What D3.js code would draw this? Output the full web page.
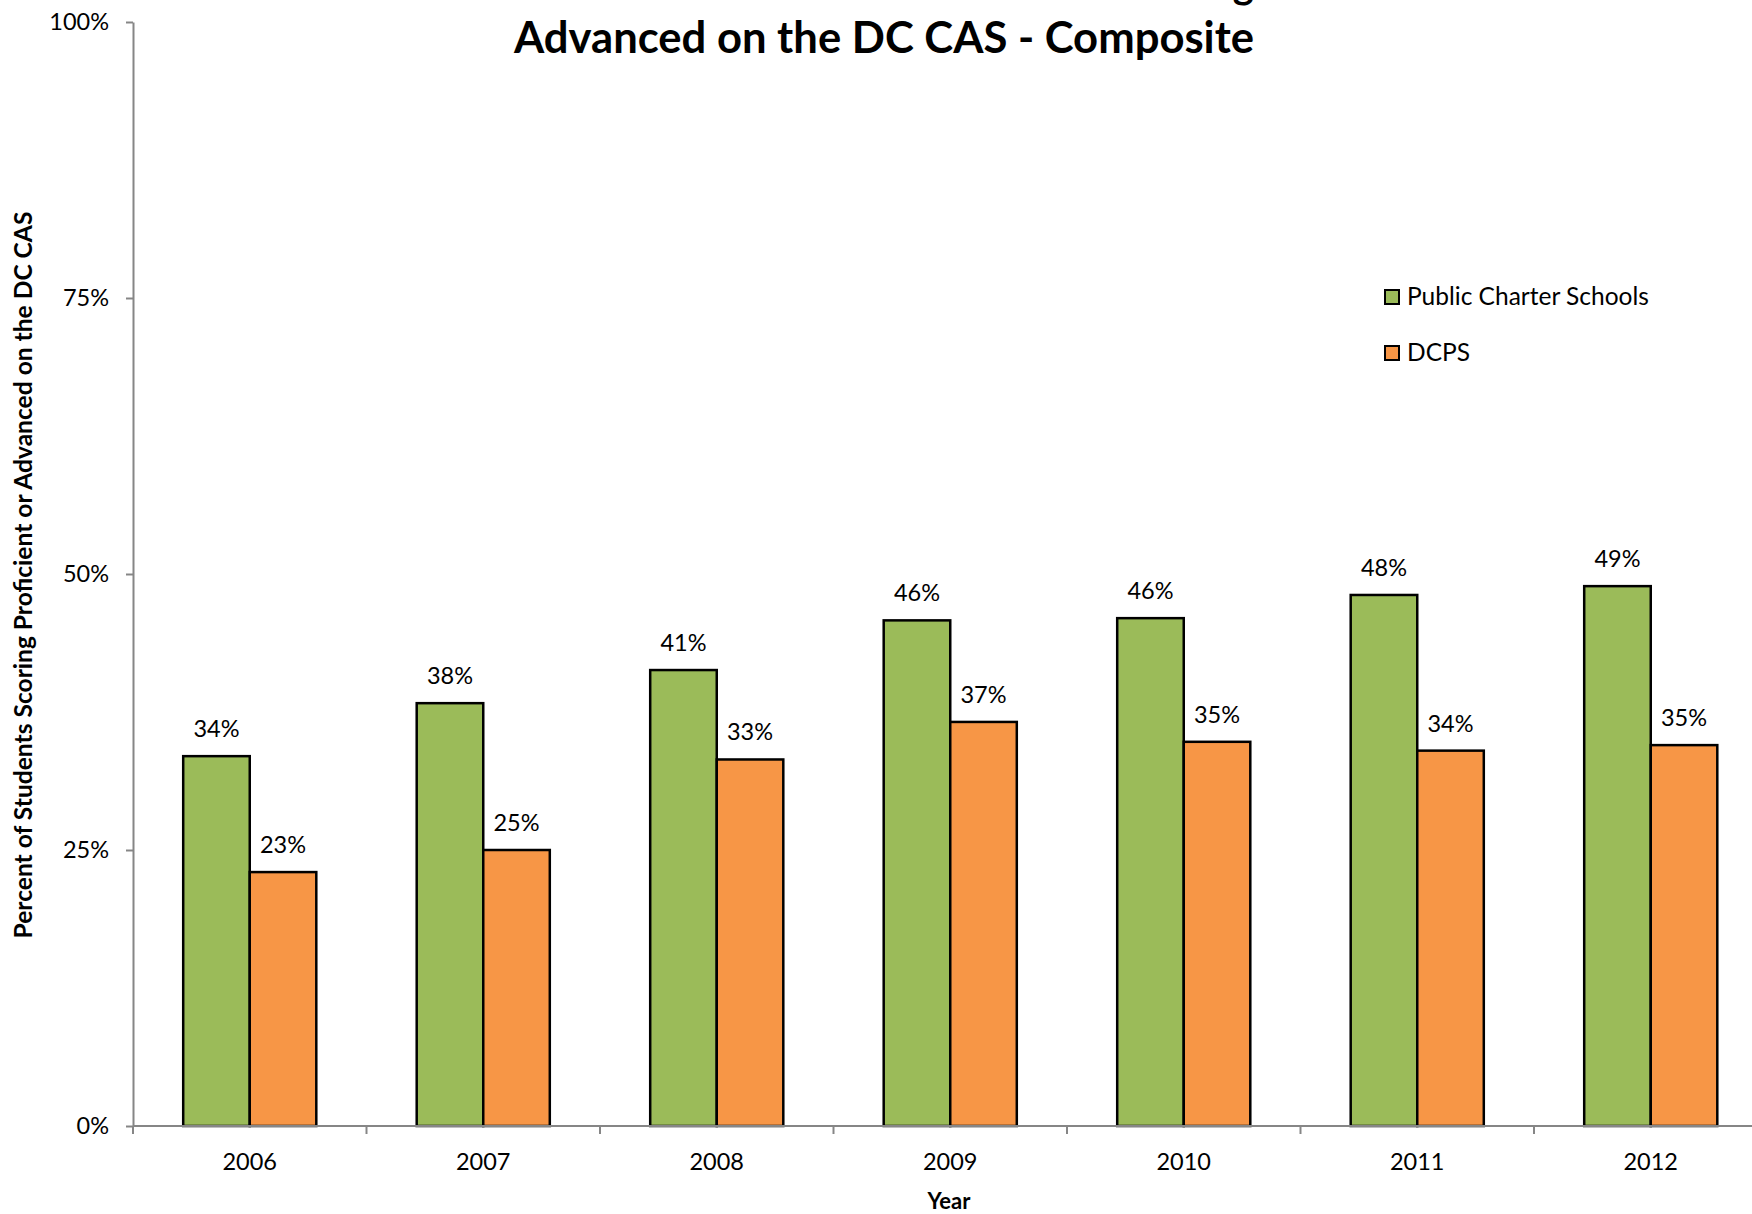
<!DOCTYPE html>
<html><head><meta charset="utf-8">
<script src="https://cdn.jsdelivr.net/npm/d3@7"></script>
<style>body{margin:0;background:#fff;overflow:hidden} svg{display:block}</style>
</head><body>
<script>
// ---- data ----
const years = ["2006", "2007", "2008", "2009", "2010", "2011", "2012"];
const seriesNames = ["Public Charter Schools", "DCPS"];
const charterValues = [33.5, 38.3, 41.3, 45.8, 46.0, 48.1, 48.9];
const dcpsValues = [23.0, 25.0, 33.2, 36.6, 34.8, 34.0, 34.5];
const yTicks = [0, 25, 50, 75, 100];
const titleLines = ["Percent of PCS and DCPS Students Scoring", "Advanced on the DC CAS - Composite"];
const yTitle = "Percent of Students Scoring Proficient or Advanced on the DC CAS";
const xTitle = "Year";

const colors = ["#9BBB59", "#F79646"];
const FONT = "Lato, 'Open Sans', sans-serif";

const W = 1752, H = 1214;
const svg = d3.select("body").append("svg").attr("width", W).attr("height", H)
  .style("font-family", FONT);

const plotLeft = 133, plotBase = 1126, plotTop = 22, step = 233.5;
const y = d3.scaleLinear().domain([0, 100]).range([plotBase, plotTop]);
const x0 = d3.scaleBand().domain(years).range([plotLeft, plotLeft + step * years.length])
  .paddingInner(0.43).paddingOuter(0.215);
const x1 = d3.scaleBand().domain(seriesNames).range([0, x0.bandwidth()]);

const data = years.map((yr, i) => ({year: yr, values: [charterValues[i], dcpsValues[i]]}));

function fit(sel, target) {
  const node = sel.node();
  const fs = parseFloat(sel.attr("font-size"));
  const w = node.getComputedTextLength();
  if (w > 0) sel.attr("font-size", (fs * target / w).toFixed(2));
}

// ---- title (first line runs off the top edge, as in the source) ----
svg.append("text").attr("x", 1254).attr("y", -2).attr("text-anchor", "end")
  .attr("font-weight", "bold").attr("font-size", 40).attr("fill", "#000").text(titleLines[0]);
const t2 = svg.append("text").attr("x", 884).attr("y", 53).attr("text-anchor", "middle")
  .attr("font-weight", "bold").attr("font-size", 40).attr("fill", "#000").text(titleLines[1]);
fit(t2, 740);

// ---- bars ----
const g = svg.append("g");
const groups = g.selectAll("g.grp").data(data).join("g").attr("class", "grp")
  .attr("transform", d => `translate(${x0(d.year)},0)`);
groups.selectAll("rect").data(d => d.values.map((v, i) => ({v, i}))).join("rect")
  .attr("x", d => x1(seriesNames[d.i]))
  .attr("y", d => y(d.v))
  .attr("width", x1.bandwidth())
  .attr("height", d => plotBase - y(d.v))
  .attr("fill", d => colors[d.i])
  .attr("stroke", "#000").attr("stroke-width", 2.5);
groups.selectAll("text").data(d => d.values.map((v, i) => ({v, i}))).join("text")
  .attr("x", d => x1(seriesNames[d.i]) + x1.bandwidth() / 2)
  .attr("y", d => y(d.v) - 19)
  .attr("text-anchor", "middle").attr("font-size", 23.5).attr("fill", "#000")
  .text(d => Math.round(d.v) + "%");

// ---- y axis ----
const yAxis = svg.append("g").attr("transform", `translate(${plotLeft},0)`)
  .call(d3.axisLeft(y).tickValues(yTicks).tickFormat(d => d + "%").tickSize(7).tickSizeOuter(0).tickPadding(17));
yAxis.select(".domain").attr("stroke", "#868686").attr("stroke-width", 2);
yAxis.selectAll(".tick line").attr("stroke", "#868686").attr("stroke-width", 2);
yAxis.selectAll(".tick text").attr("font-size", 23.5).attr("font-family", FONT).attr("fill", "#000");

// ---- x axis ----
const xg = svg.append("g");
xg.append("line").attr("x1", plotLeft).attr("x2", plotLeft + step * years.length)
  .attr("y1", plotBase).attr("y2", plotBase).attr("stroke", "#868686").attr("stroke-width", 2);
const bounds = d3.range(years.length + 1).map(i => x0(years[0]) - x0.step() * x0.paddingOuter() + i * x0.step());
xg.selectAll("line.tk").data(bounds).join("line").attr("class", "tk")
  .attr("x1", d => d).attr("x2", d => d).attr("y1", plotBase).attr("y2", plotBase + 8)
  .attr("stroke", "#868686").attr("stroke-width", 2);
xg.selectAll("text").data(years).join("text")
  .attr("x", d => x0(d) + x0.bandwidth() / 2).attr("y", 1170)
  .attr("text-anchor", "middle").attr("font-size", 23.5).attr("fill", "#000").text(d => d);

// ---- axis titles ----
svg.append("text").attr("x", 949).attr("y", 1209).attr("text-anchor", "middle")
  .attr("font-weight", "bold").attr("font-size", 22).attr("fill", "#000").text(xTitle);
const yt = svg.append("text").attr("transform", "translate(32,575) rotate(-90)")
  .attr("text-anchor", "middle").attr("font-weight", "bold").attr("font-size", 21)
  .attr("fill", "#000").text(yTitle);
fit(yt, 727);

// ---- legend ----
const lg = svg.append("g");
const items = lg.selectAll("g").data(seriesNames).join("g")
  .attr("transform", (d, i) => `translate(1385,${290 + i * 56})`);
items.append("rect").attr("width", 14).attr("height", 14)
  .attr("fill", (d, i) => colors[i]).attr("stroke", "#000").attr("stroke-width", 2);
items.append("text").attr("x", 22).attr("y", 15).attr("font-size", 24.5).attr("fill", "#000").text(d => d);
</script>
</body></html>
